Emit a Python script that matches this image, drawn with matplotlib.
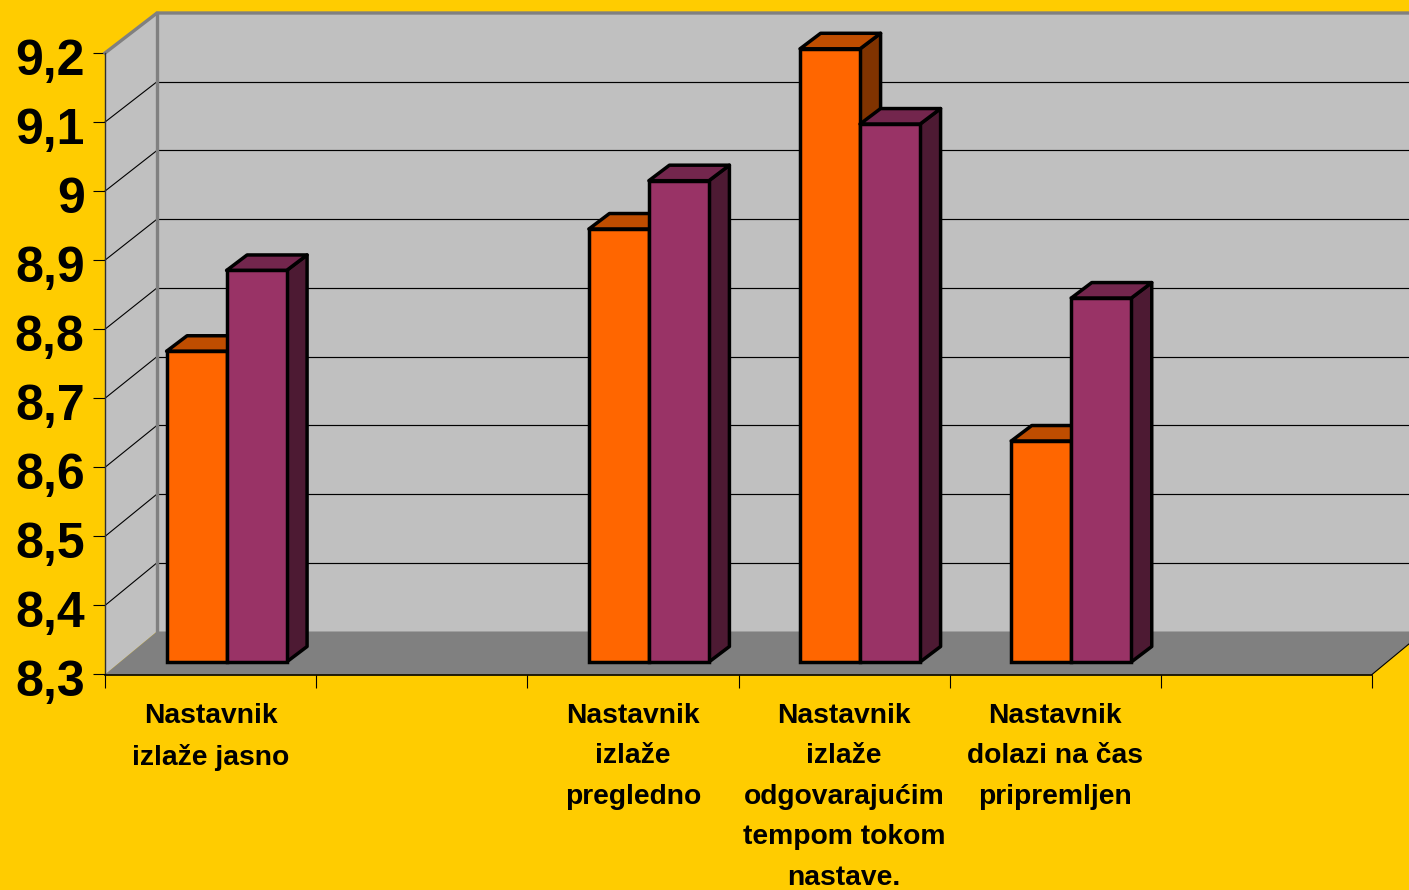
import numpy as np
import matplotlib
matplotlib.use("Agg")
import matplotlib.pyplot as plt
from matplotlib.patches import Polygon
from matplotlib.transforms import ScaledTranslation

categories = ["Nastavnik\nizlaže jasno", "", "Nastavnik\nizlaže\npregledno",
              "Nastavnik\nizlaže\nodgovarajućim\ntempom tokom\nnastave.",
              "Nastavnik\ndolazi na čas\npripremljen", ""]
series_a = [8.75, np.nan, 8.927, 9.188, 8.62, np.nan]
series_b = [8.867, np.nan, 8.997, 9.079, 8.827, np.nan]
value_ticks = [8.3, 8.4, 8.5, 8.6, 8.7, 8.8, 8.9, 9.0, 9.1, 9.2]
value_labels = ["8,3", "8,4", "8,5", "8,6", "8,7", "8,8", "8,9", "9", "9,1", "9,2"]

plt.rcParams['font.family'] = ['Liberation Sans', 'DejaVu Sans']

W, H = 1409, 890
fig = plt.figure(figsize=(W / 100, H / 100), dpi=100, facecolor="#FFCC00")
ax = fig.add_axes([105 / W, (H - 674.5) / H, 1267 / W, 621.5 / H])
ax.set_xlim(0, 6)
ax.set_ylim(8.3, 9.2)
ax.patch.set_visible(False)

# size of one pixel in data units
px_x = 6 / 1267
px_y = 0.9 / 621.5
depth_x = 52 * px_x


def back_value(v):
    # same value on the back wall, the perspective shrinks a little towards the top
    return v + (43 - 3 * (v - 8.3) / 0.9) * px_y


def poly(points, color, z, edge="none", lw=0):
    ax.add_patch(Polygon(points, closed=True, facecolor=color, edgecolor=edge, linewidth=lw,
                         zorder=z, clip_on=False, joinstyle="round"))


# walls and floor
right = 6 + depth_x
poly([(depth_x, back_value(8.3)), (right, back_value(8.3)), (right, back_value(9.2)), (depth_x, back_value(9.2))], "#C0C0C0", 1)
poly([(0, 8.3), (depth_x, back_value(8.3)), (depth_x, back_value(9.2)), (0, 9.2)], "#C0C0C0", 1)
poly([(0, 8.3), (6, 8.3), (right, back_value(8.3)), (depth_x, back_value(8.3))], "#808080", 1.2)

for v in value_ticks[1:-1]:
    ax.plot([0, depth_x], [v, back_value(v)], color="black", lw=0.8, zorder=1.5, clip_on=False)
    ax.plot([depth_x, right], [back_value(v), back_value(v)], color="black", lw=0.85, zorder=1.5, clip_on=False)

# grey frame of the back corner
ax.plot([0, depth_x, right], [9.2, back_value(9.2), back_value(9.2)], color="#808080", lw=2.4, zorder=1.6,
        clip_on=False, solid_joinstyle="miter")
ax.plot([depth_x, depth_x], [back_value(8.3), back_value(9.2)], color="#808080", lw=2.4, zorder=1.6, clip_on=False)
ax.plot([6, right], [8.3, back_value(8.3)], color="black", lw=0.8, zorder=1.7, clip_on=False)

# bars, the front face sits a bit behind the front plane
lift = 12.5 * px_y
bar_w = 60 * px_x
shift = 16 * px_x
bar_dx = 20.5 * px_x
bar_dy = 15.5 * px_y
edge = 2.5
colors_a = ("#FF6600", "#BF4D00", "#803300")
colors_b = ("#993366", "#73264D", "#4D1A33")

z = 3
for i in range(len(categories)):
    if np.isnan(series_a[i]):
        continue
    center = i + 0.5 + shift
    for vals, cols, x0 in [(series_a, colors_a, center - bar_w), (series_b, colors_b, center)]:
        v = vals[i]
        x1 = x0 + bar_w
        top = v + lift
        base = 8.3 + lift
        poly([(x1, base), (x1 + bar_dx, base + bar_dy), (x1 + bar_dx, top + bar_dy), (x1, top)], cols[2], z, "black", edge)
        poly([(x0, top), (x1, top), (x1 + bar_dx, top + bar_dy), (x0 + bar_dx, top + bar_dy)], cols[1], z, "black", edge)
        ax.bar(x0, v - 8.3, width=bar_w, bottom=base, align="edge", color=cols[0], edgecolor="black",
               linewidth=edge, zorder=z, clip_on=False)
        z += 0.1

# axes
for s in ["top", "right"]:
    ax.spines[s].set_visible(False)
ax.spines["left"].set_color("#303030")
ax.spines["left"].set_linewidth(1.0)
ax.spines["left"].set_zorder(2)
ax.spines["bottom"].set_color("black")
ax.spines["bottom"].set_linewidth(1.2)
ax.spines["bottom"].set_zorder(2)

ax.set_yticks(value_ticks)
ax.set_yticklabels(value_labels, fontsize=36, fontweight="bold", color="black")
ax.tick_params(axis="y", length=8.6, width=0.8, color="black", pad=6)
for lab in ax.get_yticklabels():
    lab.set_transform(lab.get_transform() + ScaledTranslation(0, -4 / 100, fig.dpi_scale_trans))

ax.set_xticks(np.arange(0, 7))
ax.set_xticks(np.arange(0.5, 6.5), minor=True)
ax.set_xticklabels([])
ax.set_xticklabels(categories, minor=True, fontsize=20.3, fontweight="bold", color="black", linespacing=1.72)
ax.tick_params(axis="x", which="major", length=9.4, width=0.8, color="black")
ax.tick_params(axis="x", which="minor", length=0, pad=20.5)

fig.savefig("out.png", dpi=100, facecolor=fig.get_facecolor())
